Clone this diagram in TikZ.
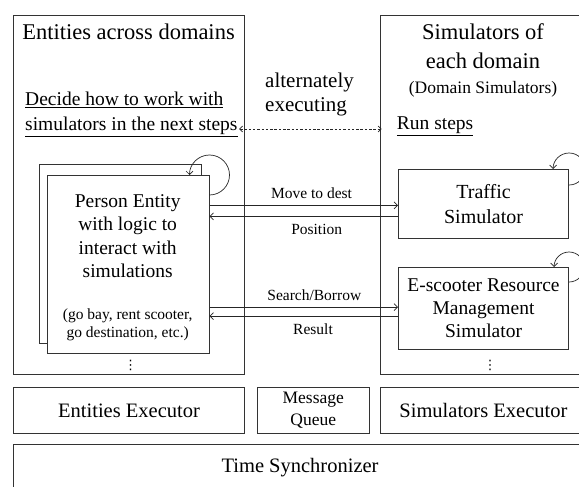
\documentclass[tikz,border=0pt]{standalone}
\usepackage{fontspec}
\setmainfont{Liberation Serif}
\newfontfamily\dejavu{DejaVu Sans}
\usetikzlibrary{arrows.meta,calc}
\newcommand\fsz[2]{\fontsize{#1}{#2}\selectfont}
\tikzset{
  box/.style={draw=black!80, line width=0.8pt, fill=white, inner sep=0pt, align=center},
  lbl/.style={inner sep=0pt, align=center},
  dotlbl/.style={inner sep=0pt, font=\dejavu\fsz{13}{13}},
  arr/.style={draw=black!85, line width=0.7pt, -{Straight Barb[length=3.5pt,width=7pt]}},
  darr/.style={draw=black!85, line width=0.7pt, dash pattern=on 2.5pt off 1.8pt,
    {Straight Barb[length=3pt,width=6pt]}-{Straight Barb[length=3pt,width=6pt]}},
}
\begin{document}
\begin{tikzpicture}[x=1pt,y=-1pt]
\useasboundingbox (0,0) rectangle (579,487);
% main containers
\node[box, anchor=north west, minimum width=230.4pt, minimum height=359pt] (ent) at (13.3,15) {};
\node[box, anchor=north west, minimum width=206pt, minimum height=359pt] (sims) at (380,15) {};
% titles
\node[lbl, anchor=base, font=\fsz{22.5}{27}] (enttitle) at (128.5,40) {Entities across domains};
\node[lbl, anchor=base, font=\fsz{22.5}{27}] (simt1) at (483,40) {Simulators of};
\node[lbl, anchor=base, font=\fsz{22.5}{27}] (simt2) at (483,69) {each domain};
\node[lbl, anchor=base, font=\fsz{17.5}{21}] (simt3) at (483,94) {(Domain Simulators)};
% alternately executing
\node[lbl, anchor=base west, font=\fsz{21}{25}] (alt1) at (265,87.5) {alternately};
\node[lbl, anchor=base west, font=\fsz{21}{25}] (alt2) at (265,112) {executing};
% decide / run steps
\node[lbl, anchor=base west, font=\fsz{19.5}{24}] (dec1) at (25,106) {\underline{Decide how to work with}};
\node[lbl, anchor=base west, font=\fsz{19.5}{24}] (dec2) at (25,130.5) {\underline{simulators in the next steps}};
\node[lbl, anchor=base west, font=\fsz{19.5}{24}] (run) at (396.7,129.5) {\underline{Run steps}};
\draw[darr] ($(dec2.east |- 0,129)+(1.5,0)$) -- ($(run.west |- 0,129)+(-15,0)$);
% person entity boxes
\node[box, anchor=north west, minimum width=161.4pt, minimum height=179pt] (pback) at (39.3,164.3) {};
\node[box, anchor=north west, minimum width=162pt, minimum height=178.3pt] (pfront) at (46.7,175) {};
\node[lbl, font=\fsz{19.5}{23.3}] (ptext) at (127.7,236) {Person Entity\\with logic to\\interact with\\simulations};
\node[lbl, font=\fsz{15.5}{17.6}] (pnote) at (127.7,325) {(go bay, rent scooter,\\go destination, etc.)};
\node[dotlbl] (edots) at (130.7,365) {⋮};
% simulators
\node[box, anchor=north west, minimum width=170.3pt, minimum height=69pt, font=\fsz{20}{25.5}] (traffic) at (398,169) {Traffic\\Simulator};
\node[box, anchor=north west, minimum width=170.3pt, minimum height=82pt, font=\fsz{19.5}{23.2}] (scoot) at (398,267) {E-scooter Resource\\Management\\Simulator};
\node[dotlbl] (sdots) at (490,365) {⋮};
% self loops
\draw[arr] ($(pfront.north east)+(0,20)$) arc[start angle=-90, end angle=180, radius=20pt];
\draw[arr] ($(traffic.north east)+(0,16)$) arc[start angle=-90, end angle=180, radius=16pt];
\draw[arr] ($(scoot.north east)+(0,15)$) arc[start angle=-90, end angle=180, radius=15pt];
% messages
\draw[arr] ($(pfront.east |- traffic.west)+(0,1.5)$) -- ($(traffic.west)+(0,1.5)$);
\draw[arr] ($(traffic.west)+(0,12.5)$) -- ($(pfront.east |- traffic.west)+(0,12.5)$);
\draw[arr] ($(pfront.east |- scoot.west)+(0,-1.3)$) -- ($(scoot.west)+(0,-1.3)$);
\draw[arr] ($(scoot.west)+(0,7.7)$) -- ($(pfront.east |- scoot.west)+(0,7.7)$);
\node[lbl, anchor=base, font=\fsz{15.5}{18}] (lmove) at (311.5,198.3) {Move to dest};
\node[lbl, anchor=base, font=\fsz{15.5}{18}] (lpos) at (316.7,234) {Position};
\node[lbl, anchor=base, font=\fsz{15.5}{18}] (lsearch) at (314.3,300) {Search/Borrow};
\node[lbl, anchor=base, font=\fsz{15.5}{18}] (lres) at (313,334) {Result};
% bottom layers
\node[box, anchor=north west, minimum width=230.7pt, minimum height=46.6pt, font=\fsz{20.5}{24}] (eexec) at (13.3,386.7) {Entities Executor};
\node[box, anchor=north west, minimum width=112.3pt, minimum height=46.6pt, font=\fsz{17.5}{21.7}] (mq) at (256.7,386.7) {Message\\Queue};
\node[box, anchor=north west, minimum width=206pt, minimum height=46.6pt, font=\fsz{20.5}{24}] (sexec) at (380,386.7) {Simulators Executor};
\node[box, anchor=north west, minimum width=572.7pt, minimum height=45.4pt, font=\fsz{20.5}{24}] (tsync) at (13.3,444) {Time Synchronizer};
\end{tikzpicture}
\end{document}
